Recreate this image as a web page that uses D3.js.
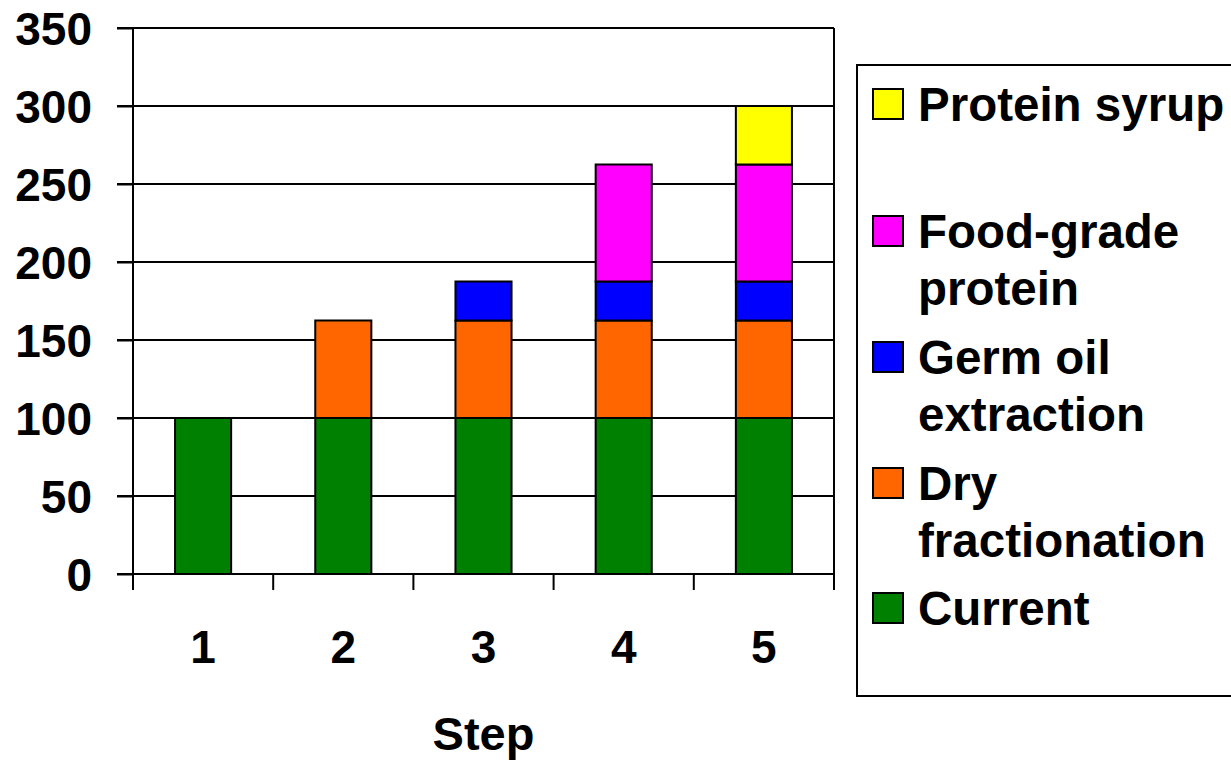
<!DOCTYPE html>
<html><head><meta charset="utf-8">
<script src="https://cdn.jsdelivr.net/npm/d3@7"></script>
<style>body{margin:0;background:#fff}svg{display:block}text{font-family:"Liberation Sans",Arial,sans-serif;font-weight:bold;fill:#000}</style>
</head><body><svg id="c" width="1231" height="760"></svg>
<script>
const steps = ["1","2","3","4","5"];
const seriesNames = ["Current","Dry fractionation","Germ oil extraction","Food-grade protein","Protein syrup"];
const current = [100,100,100,100,100];
const dryFractionation = [0,62.5,62.5,62.5,62.5];
const germOil = [0,0,25,25,25];
const foodGrade = [0,0,0,75,75];
const proteinSyrup = [0,0,0,0,37.5];
const colors = ["#008000","#FF6600","#0000FF","#FF00FF","#FFFF00"];
const yTicks = [0,50,100,150,200,250,300,350];
const legendLines = [["Protein syrup"],["Food-grade","protein"],["Germ oil","extraction"],["Dry","fractionation"],["Current"]];

(function(){
const svg = d3.select("#c");
const pL=133, pR=834, pT=28, pB=574;
const x = d3.scaleBand().domain(steps).range([pL,pR]).paddingInner(0.6).paddingOuter(0.3);
const y = d3.scaleLinear().domain([0,350]).range([pB,pT]);

svg.append("g").selectAll("line").data(yTicks).join("line")
  .attr("x1",117).attr("x2",pR).attr("y1",d=>y(d)).attr("y2",d=>y(d))
  .attr("stroke","#000").attr("stroke-width",2);
svg.append("line").attr("x1",pR).attr("x2",pR).attr("y1",pT).attr("y2",pB).attr("stroke","#000").attr("stroke-width",2);

const table = steps.map((s,i)=>({step:s,a:current[i],b:dryFractionation[i],c:germOil[i],d:foodGrade[i],e:proteinSyrup[i]}));
const keys=["a","b","c","d","e"];
const stacked = d3.stack().keys(keys)(table);
stacked.forEach((layer,k)=>{
  svg.append("g").selectAll("rect").data(layer.filter(d=>d[1]-d[0]>0)).join("rect")
    .attr("x",d=>x(d.data.step)).attr("width",x.bandwidth())
    .attr("y",d=>y(d[1])).attr("height",d=>y(d[0])-y(d[1]))
    .attr("fill",colors[k]).attr("stroke","#000").attr("stroke-width",2);
});

const ya = svg.append("g").attr("transform",`translate(${pL},0)`)
  .call(d3.axisLeft(y).tickValues(yTicks).tickSize(16).tickPadding(25));
ya.select(".domain").attr("d",`M0,${pT}V${pB+16}`).attr("stroke-width",2);
ya.selectAll(".tick line").attr("stroke-width",2);
ya.selectAll("text").style("font-size","46px").attr("font-family",null).attr("dy","0.36em");

const xb = d3.scalePoint().domain(d3.range(6)).range([pL,pR]);
const xa = svg.append("g").attr("transform",`translate(0,${pB})`);
xa.append("line").attr("x1",pL).attr("x2",pR).attr("stroke","#000").attr("stroke-width",2);
xa.selectAll("line.t").data(d3.range(6)).join("line").attr("class","t")
  .attr("x1",d=>xb(d)).attr("x2",d=>xb(d)).attr("y1",0).attr("y2",16).attr("stroke","#000").attr("stroke-width",2);
xa.selectAll("text").data(steps).join("text")
  .attr("x",d=>x(d)+x.bandwidth()/2).attr("y",89).attr("text-anchor","middle")
  .style("font-size","46px").text(d=>d);

svg.append("text").attr("x",(pL+pR)/2).attr("y",750).attr("text-anchor","middle")
  .style("font-size","47px").text("Step");

svg.append("rect").attr("x",857).attr("y",65).attr("width",420).attr("height",631)
  .attr("fill","none").attr("stroke","#000").attr("stroke-width",2);
const legColors = colors.slice().reverse();
const legTops=[89,216,342,468,593];
legendLines.forEach((lines,i)=>{
  const g=svg.append("g");
  g.append("rect").attr("x",873).attr("y",legTops[i]).attr("width",30).attr("height",30)
    .attr("fill",legColors[i]).attr("stroke","#000").attr("stroke-width",2);
  lines.forEach((t,j)=>{
    g.append("text").attr("x",918).attr("y",legTops[i]+32+j*57).style("font-size","47.5px").text(t);
  });
});
})();
</script></body></html>
